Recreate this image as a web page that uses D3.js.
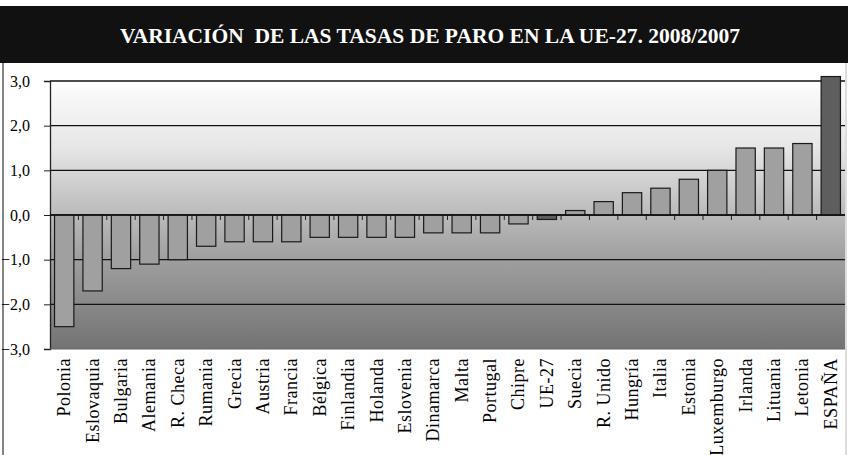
<!DOCTYPE html>
<html>
<head>
<meta charset="utf-8">
<script src="https://cdn.jsdelivr.net/npm/d3@7"></script>
<style>
  body { margin: 0; background: #fff; }
  svg { display: block; }
</style>
</head>
<body>
<svg id="chart"></svg>
<script>
const countries = ['Polonia', 'Eslovaquia', 'Bulgaria', 'Alemania', 'R. Checa', 'Rumania',
  'Grecia', 'Austria', 'Francia', 'Bélgica', 'Finlandia', 'Holanda', 'Eslovenia', 'Dinamarca',
  'Malta', 'Portugal', 'Chipre', 'UE-27', 'Suecia', 'R. Unido', 'Hungría', 'Italia', 'Estonia',
  'Luxemburgo', 'Irlanda', 'Lituania', 'Letonia', 'ESPAÑA'];
const changes = [-2.5, -1.7, -1.2, -1.1, -1.0, -0.7, -0.6, -0.6, -0.6, -0.5, -0.5, -0.5, -0.5, -0.4,
  -0.4, -0.4, -0.2, -0.1, 0.1, 0.3, 0.5, 0.6, 0.8, 1.0, 1.5, 1.5, 1.6, 3.1];
const highlighted = ['UE-27', 'ESPAÑA'];
const yTicks = [-3, -2, -1, 0, 1, 2, 3];
const title = 'VARIACIÓN\u00a0 DE LAS TASAS DE PARO EN LA UE-27. 2008/2007';

const data = countries.map((c, i) => ({ country: c, value: changes[i] }));

const width = 848;
const height = 455;
const margin = { top: 81, right: 3, bottom: 106, left: 50 };
const serif = 'Liberation Serif, DejaVu Serif, serif';

const svg = d3.select('#chart')
  .attr('width', width)
  .attr('height', height);

// title band
svg.append('rect')
  .attr('x', 0).attr('y', 6)
  .attr('width', width).attr('height', 57)
  .attr('fill', '#111');

svg.append('text')
  .attr('x', 430).attr('y', 43)
  .attr('text-anchor', 'middle')
  .attr('fill', '#fff')
  .attr('font-family', serif)
  .attr('font-weight', 'bold')
  .attr('font-size', 21.5)
  .text(title);

// frame
svg.append('line')
  .attr('x1', 3).attr('x2', 3).attr('y1', 63).attr('y2', height)
  .attr('stroke', '#333').attr('stroke-width', 1.2);
svg.append('line')
  .attr('x1', 846).attr('x2', 846).attr('y1', 63).attr('y2', height)
  .attr('stroke', '#bbb').attr('stroke-width', 1);

const x = d3.scaleBand()
  .domain(countries)
  .range([margin.left, width - margin.right])
  .paddingInner(0.32)
  .paddingOuter(0.16);

const y = d3.scaleLinear()
  .domain([-3, 3])
  .range([height - margin.bottom, margin.top]);

// plot background gradient
const grad = svg.append('defs').append('linearGradient')
  .attr('id', 'bg')
  .attr('x1', 0).attr('x2', 0).attr('y1', 0).attr('y2', 1);
grad.append('stop').attr('offset', '0%').attr('stop-color', '#fdfdfd');
grad.append('stop').attr('offset', '25%').attr('stop-color', '#e6e6e6');
grad.append('stop').attr('offset', '50%').attr('stop-color', '#bababa');
grad.append('stop').attr('offset', '67%').attr('stop-color', '#9e9e9e');
grad.append('stop').attr('offset', '100%').attr('stop-color', '#737373');

svg.append('rect')
  .attr('x', margin.left)
  .attr('y', y(3))
  .attr('width', width - margin.right - margin.left)
  .attr('height', y(-3) - y(3))
  .attr('fill', 'url(#bg)');

// gridlines
svg.append('g')
  .selectAll('line')
  .data(yTicks.filter(d => d !== -3))
  .join('line')
  .attr('x1', margin.left)
  .attr('x2', width - margin.right)
  .attr('y1', d => y(d))
  .attr('y2', d => y(d))
  .attr('stroke', '#111')
  .attr('stroke-width', 1.3);

// y axis
const yAxis = d3.axisLeft(y)
  .tickValues(yTicks)
  .tickSize(6)
  .tickPadding(14)
  .tickFormat(d => d3.format('.1f')(d).replace('.', ','));

svg.append('g')
  .attr('transform', `translate(${margin.left},0)`)
  .call(yAxis)
  .attr('font-family', serif)
  .attr('font-size', 16)
  .call(g => g.select('.domain').attr('stroke', '#222').attr('stroke-width', 1.3))
  .call(g => g.selectAll('.tick line').attr('stroke', '#222'))
  .call(g => g.selectAll('.tick text').attr('fill', '#000'));

// bars
svg.append('g')
  .selectAll('rect')
  .data(data)
  .join('rect')
  .attr('x', d => x(d.country))
  .attr('y', d => y(Math.max(0, d.value)))
  .attr('width', x.bandwidth())
  .attr('height', d => Math.abs(y(d.value) - y(0)))
  .attr('fill', d => (highlighted.includes(d.country) ? '#5e5e5e' : '#a0a0a0'))
  .attr('stroke', '#1a1a1a')
  .attr('stroke-width', 1.2);

// category ticks along zero line
const step = x.step();
svg.append('g')
  .selectAll('line')
  .data(countries.slice(1))
  .join('line')
  .attr('x1', d => x(d) - (step - x.bandwidth()) / 2)
  .attr('x2', d => x(d) - (step - x.bandwidth()) / 2)
  .attr('y1', y(0))
  .attr('y2', y(0) + 5)
  .attr('stroke', '#222');

svg.append('line')
  .attr('x1', margin.left).attr('x2', width - margin.right)
  .attr('y1', y(0)).attr('y2', y(0))
  .attr('stroke', '#111').attr('stroke-width', 1.3);

// bottom edge of plot
svg.append('line')
  .attr('x1', margin.left).attr('x2', width - margin.right)
  .attr('y1', y(-3)).attr('y2', y(-3))
  .attr('stroke', '#666').attr('stroke-width', 1);

// category labels
svg.append('g')
  .selectAll('text')
  .data(countries)
  .join('text')
  .attr('transform', d => `translate(${x(d) + x.bandwidth() / 2 + 6},${y(-3) + 9}) rotate(-90)`)
  .attr('text-anchor', 'end')
  .attr('font-family', serif)
  .attr('font-size', 18)
  .attr('letter-spacing', 0.5)
  .text(d => d);
</script>
</body>
</html>
